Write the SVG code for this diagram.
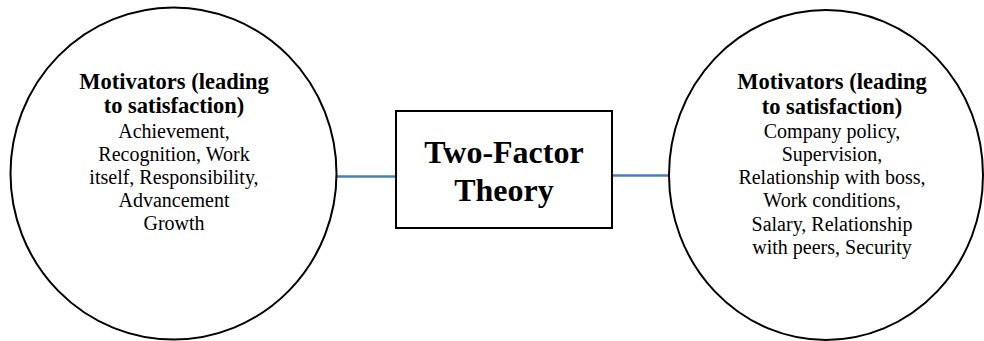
<svg xmlns="http://www.w3.org/2000/svg" width="984" height="341" viewBox="0 0 984 341">
<style>
text{font-family:'Liberation Serif','Times New Roman',Times,serif;text-anchor:middle;fill:#000}
.shape{fill:#fff;stroke:#000;stroke-width:2}
.conn{stroke:#4a7ebb;stroke-width:2.5;fill:none}
.h{font-weight:bold;font-size:22.5px}
.b{font-size:20px}
.t{font-weight:bold;font-size:32px}
</style>
<rect width="984" height="341" fill="#fff"/>
<g id="connectors">
<line class="conn" x1="337" y1="176.5" x2="396" y2="176.5"/>
<line class="conn" x1="612" y1="175.5" x2="669" y2="175.5"/>
</g>
<g id="motivators">
<ellipse class="shape" cx="173.5" cy="173.5" rx="163" ry="166"/>
<text class="h" x="174" y="89">Motivators (leading</text>
<text class="h" x="174" y="113">to satisfaction)</text>
<text class="b" x="174" y="137.5">Achievement,</text>
<text class="b" x="174" y="160.5">Recognition, Work</text>
<text class="b" x="174" y="183.5">itself, Responsibility,</text>
<text class="b" x="174" y="206.5">Advancement</text>
<text class="b" x="174" y="229.5">Growth</text>
</g>
<g id="theory">
<rect class="shape" x="396" y="111" width="216" height="117"/>
<text class="t" x="504" y="163">Two-Factor</text>
<text class="t" x="504" y="201">Theory</text>
</g>
<g id="hygiene">
<ellipse class="shape" cx="826" cy="175" rx="157" ry="165"/>
<text class="h" x="832" y="89">Motivators (leading</text>
<text class="h" x="832" y="114">to satisfaction)</text>
<text class="b" x="832" y="137.5">Company policy,</text>
<text class="b" x="832" y="160.5">Supervision,</text>
<text class="b" x="832" y="184">Relationship with boss,</text>
<text class="b" x="832" y="207">Work conditions,</text>
<text class="b" x="832" y="230.5">Salary, Relationship</text>
<text class="b" x="832" y="254">with peers, Security</text>
</g>
</svg>
